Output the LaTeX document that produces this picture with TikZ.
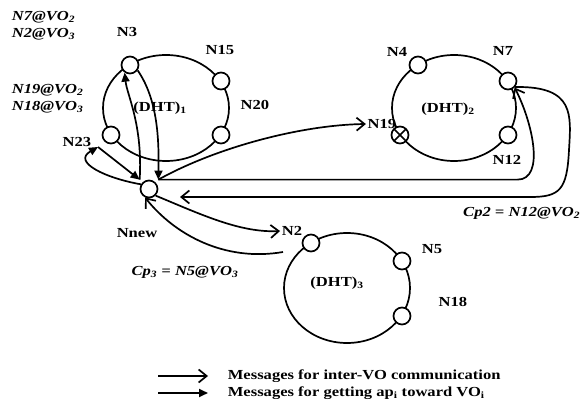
\documentclass[tikz,border=0pt]{standalone}
\usepackage{fontspec}
\setmainfont{Liberation Serif}[FakeStretch=1.2]
\usetikzlibrary{arrows.meta}

\begin{document}
\begin{tikzpicture}[x=1pt,y=-1pt,line width=1.7pt,
  font=\fontsize{13.8}{15}\selectfont\bfseries,
  peer/.style={circle,draw,fill=white,minimum size=17pt,inner sep=0pt},
  lbl/.style={inner sep=1pt},
  vo/.style={inner sep=1pt,font=\fontsize{13.8}{15}\selectfont\bfseries\itshape},
  msg/.style={-{Straight Barb[length=8pt,width=13pt]}},
  req/.style={-{Triangle[length=9pt,width=8pt]}}]
  \useasboundingbox (0,0) rectangle (584,403);

  % DHT rings
  \draw (166,108) ellipse [x radius=63pt,y radius=53pt];
  \draw (454,108) ellipse [x radius=62pt,y radius=53pt];
  \draw (347,288) ellipse [x radius=63pt,y radius=55pt];
  \node[lbl] (dht1) at (160,108) {(DHT)\textsubscript{1}};
  \node[lbl] (dht2) at (448,109) {(DHT)\textsubscript{2}};
  \node[lbl] (dht3) at (337,283) {(DHT)\textsubscript{3}};

  % peers
  \node[peer] (n3) at (130,65) {};
  \node[peer] (n15) at (221,81) {};
  \node[peer] (n20) at (221,135) {};
  \node[peer] (n23) at (111,135) {};
  \node[peer] (n4) at (418,65) {};
  \node[peer] (n7) at (508,81) {};
  \node[peer] (n12) at (508,135) {};
  \node[peer] (n2) at (311,243) {};
  \node[peer] (n5) at (402,261) {};
  \node[peer] (n18) at (402,316) {};
  \node[peer] (nnew) at (149,189) {};

  % peer names
  \node[lbl] (l3) at (127,32) {N3};
  \node[lbl] (l15) at (220,50) {N15};
  \node[lbl] (l20) at (255,105) {N20};
  \node[lbl] (l23) at (77,142) {N23};
  \node[lbl] (l4) at (397,52) {N4};
  \node[lbl] (l7) at (503,51) {N7};
  \node[lbl] (l19) at (382,124) {N19};
  \node[lbl] (l12) at (507,160) {N12};
  \node[lbl] (l2) at (292,231) {N2};
  \node[lbl] (l5) at (432,249) {N5};
  \node[lbl] (l18) at (453,302) {N18};
  \node[lbl] (lnew) at (137,233) {Nnew};
  \node[peer,path picture={
    \draw (path picture bounding box.north west) -- (path picture bounding box.south east)
          (path picture bounding box.north east) -- (path picture bounding box.south west);}]
    (n19) at (400,135) {};

  % contact points
  \node[vo,anchor=west] (vo7) at (10,17) {N7@VO\textsubscript{2}};
  \node[vo,anchor=west] (vo2) at (10,34) {N2@VO\textsubscript{3}};
  \node[vo,anchor=west] (vo19) at (10,90) {N19@VO\textsubscript{2}};
  \node[vo,anchor=west] (vo18) at (10,107) {N18@VO\textsubscript{3}};
  \node[vo,anchor=east] (cp2) at (582,213) {Cp2 = N12@VO\textsubscript{2}};
  \node[vo] (cp3) at (185,272) {Cp\textsubscript{3} = N5@VO\textsubscript{3}};

  % getting ap_i inside VO_1
  \coordinate (nwc) at (nnew.west |- nnew.north);
  \coordinate (nec) at (nnew.east |- nnew.north);
  \coordinate (n23in) at (98,147);
  \draw[req] (nwc) .. controls (143,125) and (127,95) .. (n3.235);
  \draw[req] (n3.-35) .. controls (158,100) and (159,140) .. (nec);
  \draw[req] (n23in) -- (nwc);
  \draw[req] (nnew.150) .. controls (105,178) and (72,162) .. (n23in);

  % inter-VO messages
  \coordinate (cp2in) at (180,197);
  \coordinate (cp3out) at (283,252);
  \draw[msg] (nec) .. controls (215,148) and (300,125) .. (l19.west);
  \draw[msg] (nec) -- (nec -| n12.east) .. controls +(28,0) and +(18,35) .. (n7.-45);
  \draw[msg] (n7.-40) .. controls (575,86) and (571,115) .. (569,150)
    .. controls (567,190) and (560,197) .. (530,197) -- (cp2in);
  \draw[msg] (nnew.-45) .. controls (200,214) and (240,233) .. (l2.west);
  \draw[msg] (cp3out) .. controls (225,262) and (175,235) .. (nnew.-115);

  % legend
  \coordinate (k1) at (158,376);
  \coordinate (k2) at (158,393);
  \node[lbl,anchor=west] (t1) at (226,376) {Messages for inter-VO communication};
  \node[lbl,anchor=west] (t2) at (226,393) {Messages for getting ap\textsubscript{i} toward VO\textsubscript{i}};
  \draw[msg] (k1) -- ++(50,0);
  \draw[req] (k2) -- ++(50,0);
\end{tikzpicture}
\end{document}
